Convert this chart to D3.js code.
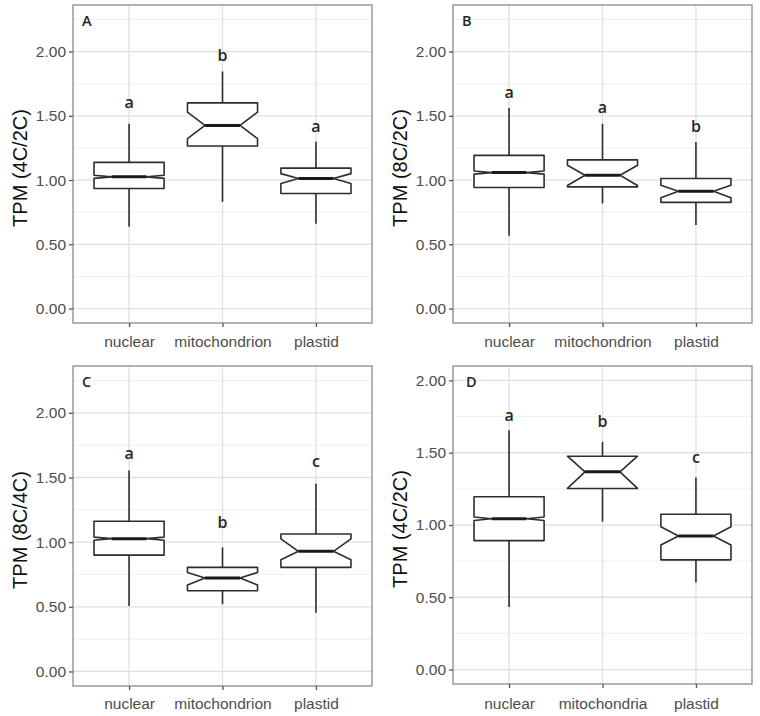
<!DOCTYPE html>
<html>
<head>
<meta charset="utf-8">
<script src="https://cdn.jsdelivr.net/npm/d3@7"></script>
<style>
  html, body { margin: 0; padding: 0; background: #ffffff; }
  svg { display: block; }
</style>
</head>
<body>
<svg id="chart" width="760" height="716"></svg>
<script>
// ---------------- DATA ----------------
const panelNames = ["A", "B", "C", "D"];
const categoriesABC = ["nuclear", "mitochondrion", "plastid"];
const categoriesD = ["nuclear", "mitochondria", "plastid"];
const yTitles = ["TPM (4C/2C)", "TPM (8C/2C)", "TPM (8C/4C)", "TPM (4C/2C)"];
const yTickValues = [0, 0.5, 1, 1.5, 2];
const yTickLabels = ["0.00", "0.50", "1.00", "1.50", "2.00"];
const yMinorValues = [0.25, 0.75, 1.25, 1.75, 2.25];

// per panel (A, B, C, D), per category (nuclear, mito, plastid)
const whiskerLow  = [[0.637, 0.831, 0.660], [0.567, 0.818, 0.650], [0.507, 0.520, 0.455], [0.432, 1.023, 0.602]];
const quartile1   = [[0.934, 1.265, 0.895], [0.942, 0.947, 0.826], [0.900, 0.624, 0.805], [0.892, 1.253, 0.759]];
const medians     = [[1.025, 1.425, 1.012], [1.058, 1.037, 0.913], [1.027, 0.722, 0.929], [1.043, 1.368, 0.924]];
const quartile3   = [[1.138, 1.601, 1.093], [1.192, 1.157, 1.012], [1.162, 0.805, 1.063], [1.195, 1.476, 1.074]];
const whiskerHigh = [[1.438, 1.845, 1.298], [1.560, 1.438, 1.296], [1.555, 0.960, 1.452], [1.655, 1.575, 1.329]];
const notchLow    = [[1.013, 1.322, 0.973], [1.046, 0.958, 0.862], [1.015, 0.668, 0.864], [1.031, 1.253, 0.862]];
const notchHigh   = [[1.037, 1.529, 1.050], [1.070, 1.115, 0.960], [1.039, 0.766, 1.025], [1.055, 1.476, 0.988]];
const groupLetters = [["a", "b", "a"], ["a", "a", "b"], ["a", "b", "c"], ["a", "b", "c"]];
const letterValues = [[1.606, 1.973, 1.417], [1.684, 1.567, 1.417], [1.692, 1.154, 1.625], [1.759, 1.722, 1.467]];
const yLimits = [[0, 2.25], [0, 2.25], [0, 2.25], [0, 2.0]];
const panelTagY = [2.24, 2.24, 2.24, 1.99];

// ---------------- LAYOUT ----------------
const layout = [
  { left: 73,  top: 5,   right: 372, bottom: 323, xLabelY: 341 },
  { left: 453, top: 5,   right: 752, bottom: 323, xLabelY: 341 },
  { left: 73,  top: 366, right: 372, bottom: 686, xLabelY: 703 },
  { left: 453, top: 366, right: 752, bottom: 684, xLabelY: 703 }
];

const svg = d3.select("#chart");
const boxStroke = "#2e2e2e";
const tickColor = "#4d4d4d";
const fontAxis = "'Liberation Sans', Arial, sans-serif";
const fontAnno = "'Open Sans', 'Noto Sans', sans-serif";

panelNames.forEach((name, p) => {
  const L = layout[p];
  const cats = p === 3 ? categoriesD : categoriesABC;
  const [lo, hi] = yLimits[p];
  const pad = (hi - lo) * 0.05;
  const y = d3.scaleLinear().domain([lo - pad, hi + pad]).range([L.bottom, L.top]);
  const x = d3.scaleLinear().domain([0.4, 3.6]).range([L.left, L.right]);
  const unit = x(1) - x(0);
  const boxW = 0.75 * unit;
  const notchIndent = boxW * 0.25;

  const g = svg.append("g");

  g.append("rect")
    .attr("x", L.left).attr("y", L.top)
    .attr("width", L.right - L.left).attr("height", L.bottom - L.top)
    .attr("fill", "#ffffff");

  // minor grid
  g.selectAll(".minor").data(yMinorValues.filter(v => y(v) >= L.top && y(v) <= L.bottom))
    .enter().append("line")
    .attr("x1", L.left).attr("x2", L.right)
    .attr("y1", d => y(d)).attr("y2", d => y(d))
    .attr("stroke", "#ededed").attr("stroke-width", 0.9);

  // major grid
  g.selectAll(".major").data(yTickValues)
    .enter().append("line")
    .attr("x1", L.left).attr("x2", L.right)
    .attr("y1", d => y(d)).attr("y2", d => y(d))
    .attr("stroke", "#e0e0e0").attr("stroke-width", 1.3);
  g.selectAll(".vmajor").data([1, 2, 3])
    .enter().append("line")
    .attr("x1", d => x(d)).attr("x2", d => x(d))
    .attr("y1", L.top).attr("y2", L.bottom)
    .attr("stroke", "#e0e0e0").attr("stroke-width", 1.3);

  // boxes
  cats.forEach((c, i) => {
    const cx = x(i + 1);
    const x0 = cx - boxW / 2, x1 = cx + boxW / 2;
    g.append("line")
      .attr("x1", cx).attr("x2", cx)
      .attr("y1", y(quartile3[p][i])).attr("y2", y(whiskerHigh[p][i]))
      .attr("stroke", boxStroke).attr("stroke-width", 1.6);
    g.append("line")
      .attr("x1", cx).attr("x2", cx)
      .attr("y1", y(quartile1[p][i])).attr("y2", y(whiskerLow[p][i]))
      .attr("stroke", boxStroke).attr("stroke-width", 1.6);
    const pts = [
      [x0, y(quartile1[p][i])],
      [x0, y(notchLow[p][i])],
      [x0 + notchIndent, y(medians[p][i])],
      [x0, y(notchHigh[p][i])],
      [x0, y(quartile3[p][i])],
      [x1, y(quartile3[p][i])],
      [x1, y(notchHigh[p][i])],
      [x1 - notchIndent, y(medians[p][i])],
      [x1, y(notchLow[p][i])],
      [x1, y(quartile1[p][i])]
    ];
    g.append("path")
      .attr("d", d3.line()(pts) + "Z")
      .attr("fill", "#ffffff")
      .attr("stroke", boxStroke).attr("stroke-width", 1.6)
      .attr("stroke-linejoin", "round");
    g.append("line")
      .attr("x1", x0 + notchIndent).attr("x2", x1 - notchIndent)
      .attr("y1", y(medians[p][i])).attr("y2", y(medians[p][i]))
      .attr("stroke", "#1a1a1a").attr("stroke-width", 3);
    g.append("text")
      .attr("x", cx).attr("y", y(letterValues[p][i]))
      .attr("text-anchor", "middle").attr("dominant-baseline", "central")
      .attr("font-family", fontAnno).attr("font-size", 16).attr("font-weight", 600)
      .attr("fill", "#262626")
      .text(groupLetters[p][i]);
  });

  // panel tag
  g.append("text")
    .attr("x", L.left + (p === 3 ? 13 : 9)).attr("y", y(panelTagY[p]))
    .attr("dominant-baseline", "central")
    .attr("font-family", fontAnno).attr("font-size", 14.5).attr("font-weight", 600)
    .attr("fill", "#262626")
    .text(name);

  // border
  g.append("rect")
    .attr("x", L.left).attr("y", L.top)
    .attr("width", L.right - L.left).attr("height", L.bottom - L.top)
    .attr("fill", "none").attr("stroke", "#8a8a8a").attr("stroke-width", 1.3);

  // y axis
  const yAxis = d3.axisLeft(y).tickValues(yTickValues)
    .tickFormat((d, k) => yTickLabels[k]).tickSize(4).tickPadding(3);
  const ya = svg.append("g").attr("transform", `translate(${L.left},0)`).call(yAxis);
  ya.select(".domain").remove();
  ya.selectAll(".tick line").attr("stroke", "#555555").attr("stroke-width", 1.3);
  ya.selectAll(".tick text").attr("fill", tickColor)
    .attr("font-family", fontAxis).attr("font-size", 15.5);

  // x axis
  const xAxis = d3.axisBottom(x).tickValues([1, 2, 3])
    .tickFormat((d) => cats[d - 1]).tickSize(4).tickPadding(4);
  const xa = svg.append("g").attr("transform", `translate(0,${L.bottom})`).call(xAxis);
  xa.select(".domain").remove();
  xa.selectAll(".tick line").attr("stroke", "#555555").attr("stroke-width", 1.3);
  xa.selectAll(".tick text").attr("fill", tickColor)
    .attr("font-family", fontAxis).attr("font-size", 15.5)
    .attr("dy", null).attr("y", L.xLabelY - L.bottom).attr("dominant-baseline", "central");

  // y title
  svg.append("text")
    .attr("transform", `translate(${L.left - 53},${(L.top + L.bottom) / 2 + 4}) rotate(-90)`)
    .attr("text-anchor", "middle").attr("dominant-baseline", "central")
    .attr("font-family", fontAxis).attr("font-size", 20).attr("fill", "#111111")
    .text(yTitles[p]);
});
</script>
</body>
</html>
